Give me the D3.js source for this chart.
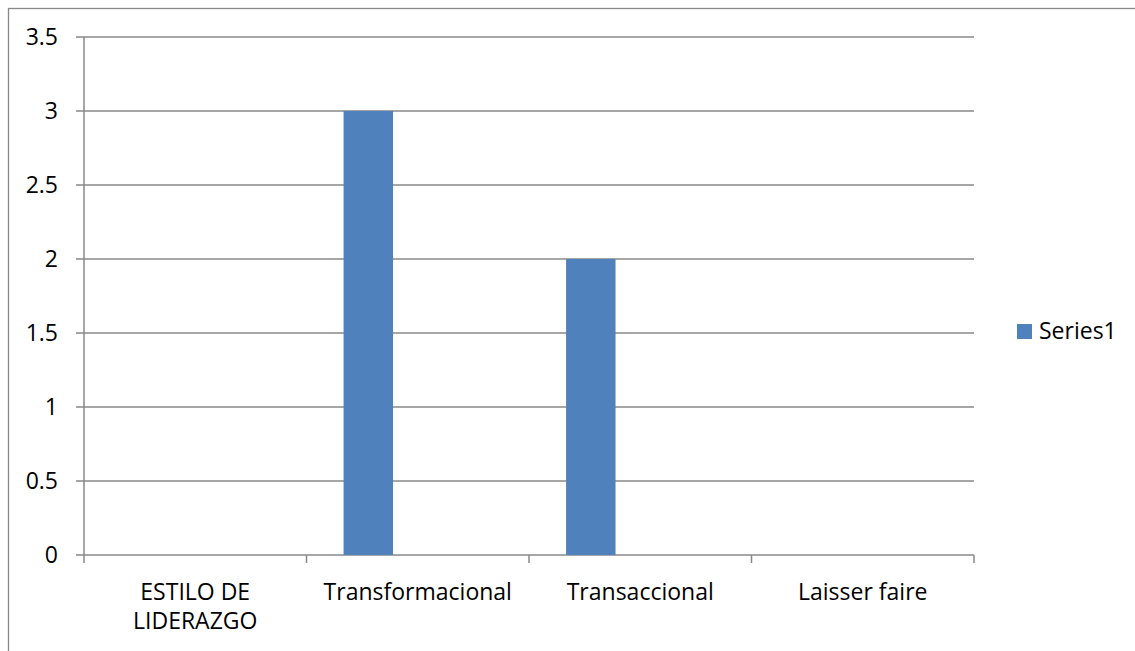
<!DOCTYPE html>
<html lang="es">
<head>
    <meta charset="UTF-8">
    <title>Estilo de liderazgo</title>
    <script src="https://d3js.org/d3.v7.min.js"></script>
    <style>
        body { margin: 0; background: #fff; }
        text { font-family: "Open Sans", Lato, sans-serif; fill: #000; }
    </style>
</head>
<body>
    <div id="chart"></div>
    <script>
        // data
        var categories = ['ESTILO DE LIDERAZGO', 'Transformacional', 'Transaccional', 'Laisser faire'];
        var series1 = [0, 3, 2, 0];
        var yTicks = [0, 0.5, 1, 1.5, 2, 2.5, 3, 3.5];
        var seriesNames = ['Series1'];

        var width = 1135,
            height = 651;
        var plot = { left: 84, right: 974, top: 37, bottom: 555 };
        var grey = '#888888';
        var fs = '23px';

        var svg = d3.select('#chart')
            .append('svg')
            .attr('width', width)
            .attr('height', height);

        // outer chart frame (runs off the picture at right and bottom)
        svg.append('rect')
            .attr('x', 8.5)
            .attr('y', 8.5)
            .attr('width', 1200)
            .attr('height', 700)
            .attr('fill', 'none')
            .attr('stroke', grey)
            .attr('stroke-width', 1.3);

        var x = d3.scaleBand()
            .domain(categories)
            .range([plot.left, plot.right]);

        // excel style: 3 slots per category, gap of 0.75 slot each side
        var slot = d3.scaleBand()
            .domain([0, 1, 2])
            .range([0, x.bandwidth()])
            .paddingInner(0)
            .paddingOuter(0.75);

        var y = d3.scaleLinear()
            .domain([0, 3.5])
            .range([plot.bottom, plot.top]);

        // gridlines + y ticks
        var grid = svg.append('g');
        grid.selectAll('line')
            .data(yTicks)
            .enter()
            .append('line')
            .attr('x1', plot.left - 8)
            .attr('x2', plot.right)
            .attr('y1', d => y(d))
            .attr('y2', d => y(d))
            .attr('stroke', grey)
            .attr('stroke-width', 1.5);

        svg.append('g')
            .selectAll('text')
            .data(yTicks)
            .enter()
            .append('text')
            .attr('x', 58)
            .attr('y', d => y(d))
            .attr('dy', '0.36em')
            .attr('text-anchor', 'end')
            .attr('font-size', fs)
            .text(d => d);

        // y axis line
        svg.append('line')
            .attr('x1', plot.left).attr('x2', plot.left)
            .attr('y1', plot.top).attr('y2', plot.bottom)
            .attr('stroke', grey)
            .attr('stroke-width', 1.5);

        // x ticks at category boundaries
        var bounds = categories.map(c => x(c)).concat([plot.right]);
        svg.append('g')
            .selectAll('line')
            .data(bounds)
            .enter()
            .append('line')
            .attr('x1', d => d).attr('x2', d => d)
            .attr('y1', plot.bottom).attr('y2', plot.bottom + 8)
            .attr('stroke', grey)
            .attr('stroke-width', 1.5);

        // bars
        svg.append('g')
            .selectAll('rect')
            .data(series1)
            .enter()
            .append('rect')
            .attr('x', (d, i) => x(categories[i]) + slot(0))
            .attr('y', d => y(d))
            .attr('width', slot.bandwidth())
            .attr('height', d => y(0) - y(d))
            .attr('fill', '#4f81bd');

        // category labels (wrapped like excel)
        var wrap = { 'ESTILO DE LIDERAZGO': ['ESTILO DE', 'LIDERAZGO'] };
        var labels = svg.append('g')
            .selectAll('text')
            .data(categories)
            .enter()
            .append('text')
            .attr('text-anchor', 'middle')
            .attr('font-size', fs)
            .attr('x', d => x(d) + x.bandwidth() / 2)
            .attr('y', 600);
        labels.each(function (d) {
            var lines = wrap[d] || [d];
            var t = d3.select(this);
            lines.forEach((l, i) => {
                t.append('tspan')
                    .attr('x', x(d) + x.bandwidth() / 2)
                    .attr('dy', i == 0 ? 0 : 29)
                    .text(l);
            });
        });

        // legend
        var legend = svg.append('g')
            .attr('transform', 'translate(1017, 324)');
        legend.selectAll('rect')
            .data(seriesNames)
            .enter()
            .append('rect')
            .attr('width', 15)
            .attr('height', 15)
            .attr('fill', '#4f81bd');
        legend.selectAll('text')
            .data(seriesNames)
            .enter()
            .append('text')
            .attr('x', 22)
            .attr('y', 15)
            .attr('font-size', fs)
            .text(d => d);
    </script>
</body>
</html>
